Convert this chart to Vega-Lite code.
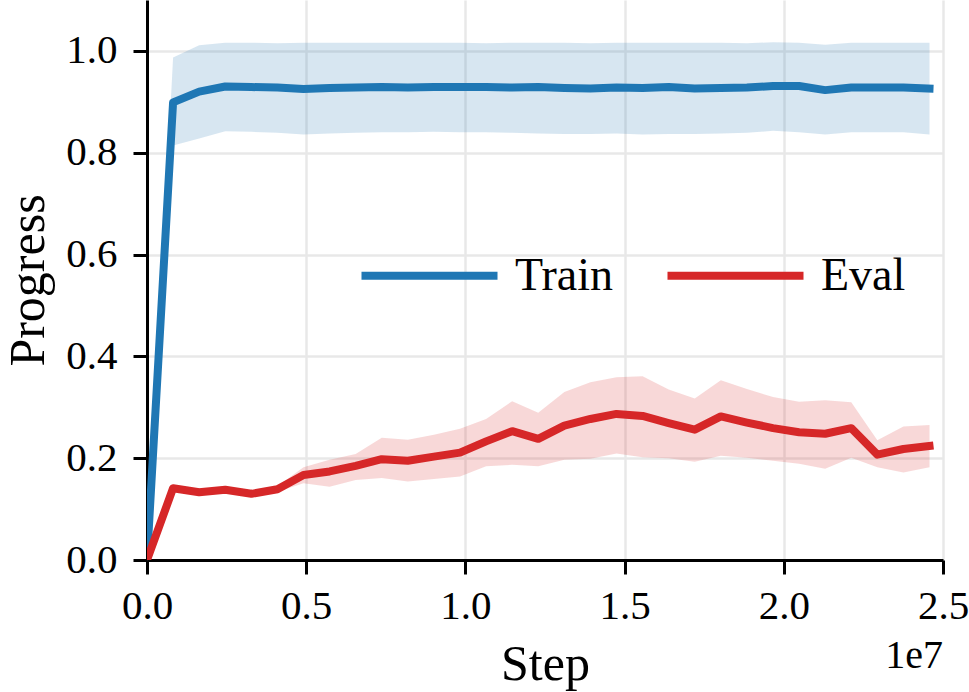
{
  "$schema": "https://vega.github.io/schema/vega-lite/v6.json",
  "width": 796,
  "height": 560,
  "autosize": {"type": "none"},
  "padding": {"left": 147, "top": 0, "right": 26, "bottom": 132},
  "background": "white",
  "title": {"text": "1e7", "orient": "bottom", "anchor": "end", "frame": "group", "font": "Liberation Serif", "fontSize": 40, "fontWeight": "normal", "color": "black", "offset": -53},
  "data": {"values": [
    {"series": "Train", "step": 0, "mean": 0, "lo": 0, "hi": 0},
    {"series": "Train", "step": 819200, "mean": 0.899, "lo": 0.814, "hi": 0.987},
    {"series": "Train", "step": 1638400, "mean": 0.920, "lo": 0.828, "hi": 1.011},
    {"series": "Train", "step": 2457600, "mean": 0.930, "lo": 0.842, "hi": 1.016},
    {"series": "Train", "step": 3276800, "mean": 0.929, "lo": 0.841, "hi": 1.016},
    {"series": "Train", "step": 4096000, "mean": 0.928, "lo": 0.839, "hi": 1.015},
    {"series": "Train", "step": 4915200, "mean": 0.925, "lo": 0.836, "hi": 1.016},
    {"series": "Train", "step": 5734400, "mean": 0.927, "lo": 0.838, "hi": 1.016},
    {"series": "Train", "step": 6553600, "mean": 0.928, "lo": 0.839, "hi": 1.016},
    {"series": "Train", "step": 7372800, "mean": 0.929, "lo": 0.840, "hi": 1.016},
    {"series": "Train", "step": 8192000, "mean": 0.928, "lo": 0.840, "hi": 1.016},
    {"series": "Train", "step": 9011200, "mean": 0.929, "lo": 0.841, "hi": 1.016},
    {"series": "Train", "step": 9830400, "mean": 0.929, "lo": 0.840, "hi": 1.016},
    {"series": "Train", "step": 10649600, "mean": 0.929, "lo": 0.840, "hi": 1.015},
    {"series": "Train", "step": 11468800, "mean": 0.928, "lo": 0.839, "hi": 1.016},
    {"series": "Train", "step": 12288000, "mean": 0.929, "lo": 0.838, "hi": 1.016},
    {"series": "Train", "step": 13107200, "mean": 0.927, "lo": 0.837, "hi": 1.016},
    {"series": "Train", "step": 13926400, "mean": 0.926, "lo": 0.837, "hi": 1.015},
    {"series": "Train", "step": 14745600, "mean": 0.928, "lo": 0.838, "hi": 1.016},
    {"series": "Train", "step": 15564800, "mean": 0.927, "lo": 0.836, "hi": 1.016},
    {"series": "Train", "step": 16384000, "mean": 0.929, "lo": 0.837, "hi": 1.016},
    {"series": "Train", "step": 17203200, "mean": 0.926, "lo": 0.837, "hi": 1.016},
    {"series": "Train", "step": 18022400, "mean": 0.927, "lo": 0.838, "hi": 1.016},
    {"series": "Train", "step": 18841600, "mean": 0.928, "lo": 0.839, "hi": 1.015},
    {"series": "Train", "step": 19660800, "mean": 0.931, "lo": 0.843, "hi": 1.017},
    {"series": "Train", "step": 20480000, "mean": 0.931, "lo": 0.840, "hi": 1.016},
    {"series": "Train", "step": 21299200, "mean": 0.923, "lo": 0.836, "hi": 1.012},
    {"series": "Train", "step": 22118400, "mean": 0.928, "lo": 0.840, "hi": 1.016},
    {"series": "Train", "step": 22937600, "mean": 0.928, "lo": 0.840, "hi": 1.016},
    {"series": "Train", "step": 23756800, "mean": 0.928, "lo": 0.840, "hi": 1.016},
    {"series": "Train", "step": 24576000, "mean": 0.926, "lo": 0.836, "hi": 1.016},
    {"series": "Eval", "step": 0, "mean": 0, "lo": 0, "hi": 0},
    {"series": "Eval", "step": 819200, "mean": 0.141, "lo": 0.138, "hi": 0.144},
    {"series": "Eval", "step": 1638400, "mean": 0.133, "lo": 0.130, "hi": 0.136},
    {"series": "Eval", "step": 2457600, "mean": 0.138, "lo": 0.135, "hi": 0.141},
    {"series": "Eval", "step": 3276800, "mean": 0.130, "lo": 0.127, "hi": 0.134},
    {"series": "Eval", "step": 4096000, "mean": 0.139, "lo": 0.134, "hi": 0.145},
    {"series": "Eval", "step": 4915200, "mean": 0.167, "lo": 0.151, "hi": 0.182},
    {"series": "Eval", "step": 5734400, "mean": 0.174, "lo": 0.144, "hi": 0.197},
    {"series": "Eval", "step": 6553600, "mean": 0.185, "lo": 0.157, "hi": 0.208},
    {"series": "Eval", "step": 7372800, "mean": 0.198, "lo": 0.161, "hi": 0.240},
    {"series": "Eval", "step": 8192000, "mean": 0.195, "lo": 0.154, "hi": 0.236},
    {"series": "Eval", "step": 9011200, "mean": 0.203, "lo": 0.159, "hi": 0.246},
    {"series": "Eval", "step": 9830400, "mean": 0.211, "lo": 0.164, "hi": 0.258},
    {"series": "Eval", "step": 10649600, "mean": 0.233, "lo": 0.184, "hi": 0.277},
    {"series": "Eval", "step": 11468800, "mean": 0.253, "lo": 0.187, "hi": 0.312},
    {"series": "Eval", "step": 12288000, "mean": 0.238, "lo": 0.184, "hi": 0.289},
    {"series": "Eval", "step": 13107200, "mean": 0.264, "lo": 0.197, "hi": 0.330},
    {"series": "Eval", "step": 13926400, "mean": 0.277, "lo": 0.199, "hi": 0.349},
    {"series": "Eval", "step": 14745600, "mean": 0.287, "lo": 0.209, "hi": 0.359},
    {"series": "Eval", "step": 15564800, "mean": 0.283, "lo": 0.202, "hi": 0.361},
    {"series": "Eval", "step": 16384000, "mean": 0.269, "lo": 0.200, "hi": 0.335},
    {"series": "Eval", "step": 17203200, "mean": 0.256, "lo": 0.193, "hi": 0.317},
    {"series": "Eval", "step": 18022400, "mean": 0.282, "lo": 0.205, "hi": 0.353},
    {"series": "Eval", "step": 18841600, "mean": 0.270, "lo": 0.201, "hi": 0.336},
    {"series": "Eval", "step": 19660800, "mean": 0.259, "lo": 0.195, "hi": 0.320},
    {"series": "Eval", "step": 20480000, "mean": 0.251, "lo": 0.189, "hi": 0.311},
    {"series": "Eval", "step": 21299200, "mean": 0.248, "lo": 0.179, "hi": 0.314},
    {"series": "Eval", "step": 22118400, "mean": 0.259, "lo": 0.201, "hi": 0.310},
    {"series": "Eval", "step": 22937600, "mean": 0.207, "lo": 0.182, "hi": 0.235},
    {"series": "Eval", "step": 23756800, "mean": 0.218, "lo": 0.172, "hi": 0.262},
    {"series": "Eval", "step": 24576000, "mean": 0.224, "lo": 0.182, "hi": 0.265}
  ]},
  "encoding": {
    "x": {"field": "step", "type": "quantitative", "title": "Step",
      "scale": {"domain": [0, 25000000], "nice": false, "zero": false},
      "axis": {"values": [0, 5000000, 10000000, 15000000, 20000000, 25000000],
        "labelExpr": "format(datum.value / 10000000, '.1f')",
        "labelFlush": false, "labelOverlap": false, "labelPadding": 12, "titlePadding": 13}}
  },
  "layer": [
    {
      "mark": {"type": "area", "opacity": 0.18, "clip": true},
      "encoding": {
        "y": {"field": "lo", "type": "quantitative", "title": "Progress",
          "scale": {"domain": [0, 1.1], "nice": false},
          "axis": {"values": [0, 0.2, 0.4, 0.6, 0.8, 1.0], "format": ".1f", "labelFlush": false, "labelOverlap": false, "labelPadding": 16, "titlePadding": 12}},
        "y2": {"field": "hi"},
        "fill": {"field": "series", "type": "nominal", "scale": {"domain": ["Eval", "Train"], "range": ["#d62728", "#1f77b4"]}, "legend": null},
        "detail": {"field": "series"}
      }
    },
    {
      "mark": {"type": "line", "strokeWidth": 8, "strokeCap": "square", "strokeJoin": "round", "clip": true},
      "encoding": {
        "y": {"field": "mean", "type": "quantitative"},
        "stroke": {"field": "series", "type": "nominal",
          "scale": {"domain": ["Train", "Eval"], "range": ["#1f77b4", "#d62728"]},
          "legend": {"title": null, "orient": "none", "direction": "horizontal", "legendX": 210, "legendY": 203,
            "symbolType": "stroke", "symbolSize": 18500, "symbolStrokeWidth": 8,
            "labelFont": "Liberation Serif", "labelFontSize": 46, "labelColor": "black",
            "labelOffset": 13, "columnPadding": 38, "padding": 0}}
      }
    }
  ],
  "config": {
    "view": {"stroke": null},
    "axis": {
      "domainColor": "black", "domainWidth": 3, "tickColor": "black", "tickWidth": 3, "tickSize": 14,
      "labelFont": "Liberation Serif", "labelFontSize": 41, "labelColor": "black",
      "titleFont": "Liberation Serif", "titleFontSize": 50, "titleFontWeight": "normal", "titleColor": "black",
      "gridColor": "#e8e8e8", "gridWidth": 2.5
    }
  }
}
